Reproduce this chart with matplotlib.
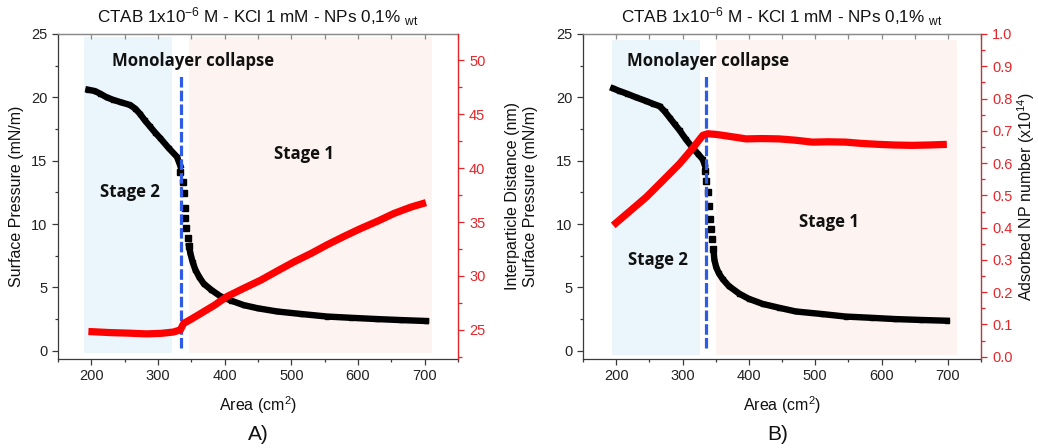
import matplotlib
matplotlib.use("Agg")
import matplotlib.pyplot as plt
from matplotlib.ticker import MultipleLocator

plt.rcParams['font.family'] = ['Liberation Sans', 'DejaVu Sans']
plt.rcParams['mathtext.fontset'] = 'custom'
plt.rcParams['mathtext.rm'] = 'Liberation Sans'
plt.rcParams['mathtext.it'] = 'Liberation Sans:italic'

# ---------------- data: panel A ----------------
a_area_s2 = [195.6, 205, 213, 223, 233, 245, 258, 266, 273, 280, 288, 296, 303, 316, 328.5, 333.5]
a_pres_s2 = [20.6, 20.5, 20.3, 20.0, 19.8, 19.6, 19.4, 19.1, 18.7, 18.2, 17.7, 17.2, 16.8, 16.0, 15.3, 14.6]
a_area_col = [333.5, 337.5, 338.4, 340.0, 341.0, 342.5, 345.5, 346.5]
a_pres_col = [14.13, 13.34, 12.42, 11.3, 10.45, 9.66, 8.87, 8.26]
a_area_s1 = [346.5, 348.5, 352, 356, 362, 368.5, 380, 393.6, 410, 428.6, 450, 478.8, 515, 554, 590, 629, 665, 702]
a_pres_s1 = [8.26, 7.7, 7.0, 6.4, 5.8, 5.3, 4.8, 4.3, 3.95, 3.6, 3.35, 3.1, 2.9, 2.7, 2.6, 2.5, 2.42, 2.35]
a_area_d = [195.6, 228, 255, 283, 305, 323, 333.5, 338.5, 350, 363.5, 385, 403.7, 430, 453.8, 480, 503.8, 530, 554, 580, 604, 630, 654, 680, 702]
a_dist = [24.85, 24.75, 24.7, 24.63, 24.68, 24.8, 25.0, 25.6, 26.0, 26.5, 27.3, 28.1, 28.9, 29.6, 30.5, 31.3, 32.1, 32.9, 33.7, 34.4, 35.1, 35.8, 36.4, 36.8]

# ---------------- data: panel B ----------------
b_area_s2 = [195.5, 205, 215.6, 230, 245.6, 255, 265.6, 273, 280.6, 288, 295.6, 305, 315.6, 324, 330.6, 333.2]
b_pres_s2 = [20.7, 20.5, 20.3, 20.0, 19.7, 19.5, 19.3, 18.9, 18.4, 17.9, 17.4, 16.7, 16.0, 15.5, 15.1, 14.7]
b_area_col = [333.2, 335.7, 338.2, 339.7, 341.7, 343.7, 344.7, 346.7]
b_pres_col = [14.2, 13.4, 12.5, 11.4, 10.4, 9.6, 8.8, 8.0]
b_area_s1 = [346.7, 348, 350.7, 355, 360.7, 370, 385.7, 400, 420.7, 445, 470.9, 510, 546, 585, 621, 660, 698.5]
b_pres_s1 = [8.0, 7.2, 6.6, 6.1, 5.65, 5.1, 4.5, 4.1, 3.7, 3.4, 3.1, 2.9, 2.7, 2.6, 2.5, 2.43, 2.37]
b_area_n = [195.5, 220, 245.6, 270, 295.6, 315, 330.6, 338, 350, 360.7, 380, 395.8, 420, 445.8, 470, 495.8, 520, 546, 570, 596, 620, 646, 670, 698.5]
b_num = [0.407, 0.45, 0.495, 0.545, 0.598, 0.645, 0.686, 0.691, 0.689, 0.686, 0.68, 0.675, 0.676, 0.675, 0.671, 0.665, 0.666, 0.665, 0.661, 0.658, 0.656, 0.655, 0.656, 0.658]

# stage regions (area ranges and pressure ranges)
a_stage2 = (189, 321.4)
a_stage1 = (346.5, 711)
b_stage2 = (193, 325.7)
b_stage1 = (350.7, 714.5)
shade_y_a = (-0.18, 24.8)
shade_y_b = (-0.35, 24.5)
a_collapse_x = 334.5
b_collapse_x = 336.0
collapse_y = (0.2, 21.8)

xticks = [200, 300, 400, 500, 600, 700]

title_txt = "CTAB 1x10$^{\\mathrm{-6}}$ M - KCl 1 mM - NPs 0,1% $_{\\mathrm{wt}}$"
RED = '#E4262B'
DARK = '#3A3A3A'

fig = plt.figure(figsize=(10.38, 4.48), dpi=100)
axA = fig.add_axes([58/1038, 1-359/448, 400/1038, 325/448])
axB = fig.add_axes([583/1038, 1-359/448, 398/1038, 325/448])


def setup(ax, stage2, stage1, shade_y, cx, area_s2, pres_s2, area_col, pres_col, area_s1, pres_s1,
          ylab_x, txt_pos):
    ax.fill_between(stage2, shade_y[0], shade_y[1], color='#EAF6FC', lw=0, zorder=0)
    ax.fill_between(stage1, shade_y[0], shade_y[1], color='#FDF3F0', lw=0, zorder=0)
    ax.plot(area_s2, pres_s2, color='black', lw=4.6, marker='s', ms=3.5, zorder=3)
    ax.plot(area_col, pres_col, color='black', lw=0, marker='s', ms=4.3, zorder=3)
    ax.plot(area_s1, pres_s1, color='black', lw=4.6, marker='s', ms=3.5, zorder=3)
    ax.plot([cx, cx], collapse_y, color='#2E5CE6', lw=2.3, dashes=(3.3, 1.0), zorder=4)
    ax.set_xlim(150, 750)
    ax.set_ylim(-0.65, 25)
    ax.set_xticks(xticks)
    ax.xaxis.set_minor_locator(MultipleLocator(50))
    ax.yaxis.set_major_locator(MultipleLocator(5))
    ax.yaxis.set_minor_locator(MultipleLocator(2.5))
    ax.tick_params(which='major', direction='out', length=4, width=0.9, color=DARK,
                   labelsize=10.5, labelcolor='#222222', right=False)
    ax.tick_params(which='minor', direction='out', length=2.5, width=0.9, color=DARK, right=False)
    for s in ['left', 'bottom']:
        ax.spines[s].set_color(DARK)
        ax.spines[s].set_linewidth(0.9)
    ax.spines['top'].set_color('#8A8A8A')
    ax.spines['top'].set_linewidth(0.9)
    top = ax.secondary_xaxis('top')
    top.set_xticks(xticks)
    top.xaxis.set_minor_locator(MultipleLocator(50))
    top.tick_params(which='both', direction='in', length=3.5, width=0.9, color='#8A8A8A',
                    labeltop=False)
    top.spines['top'].set_color('#8A8A8A')
    top.spines['top'].set_linewidth(0.9)
    ax.set_xlabel("Area (cm$^{\\mathrm{2}}$)", fontsize=11.5, color='#111111')
    ax.xaxis.set_label_coords(0.5, -0.108)
    ax.set_ylabel("Surface Pressure (mN/m)", fontsize=11.5, color='#111111')
    ax.yaxis.set_label_coords(ylab_x, 0.5)
    ax.text(0.5, 1 + 17/325, title_txt, transform=ax.transAxes, ha='center', va='center',
            fontsize=12.3, color='#111111')
    bold = dict(family=['Open Sans', 'DejaVu Sans'], fontweight='bold', fontsize=12.1,
                color='#111111', ha='center', va='center', zorder=5)
    for label, (x, y) in txt_pos.items():
        ax.text(x, y, label, **bold)


setup(axA, a_stage2, a_stage1, shade_y_a, a_collapse_x, a_area_s2, a_pres_s2, a_area_col, a_pres_col,
      a_area_s1, a_pres_s1, -0.084,
      {"Monolayer collapse": (353, 22.9), "Stage 1": (519, 15.5), "Stage 2": (258, 12.5)})
setup(axB, b_stage2, b_stage1, shade_y_b, b_collapse_x, b_area_s2, b_pres_s2, b_area_col, b_pres_col,
      b_area_s1, b_pres_s1, -0.113,
      {"Monolayer collapse": (338, 22.9), "Stage 1": (521, 10.2), "Stage 2": (263, 7.2)})


def twin(ax, x, y, ylim, major, minor, label, labx, fmt=None):
    t = ax.twinx()
    t.plot(x, y, color='#FF0000', lw=5.2, solid_capstyle='butt', zorder=3)
    t.set_ylim(*ylim)
    t.yaxis.set_major_locator(MultipleLocator(major))
    t.yaxis.set_minor_locator(MultipleLocator(minor))
    t.tick_params(which='major', direction='out', length=4.5, width=0.9, color=RED,
                  labelsize=10.5, labelcolor=RED)
    t.tick_params(which='minor', direction='out', length=2.8, width=0.9, color=RED)
    t.spines['right'].set_color(RED)
    t.spines['right'].set_linewidth(0.9)
    for s in ['left', 'top', 'bottom']:
        t.spines[s].set_visible(False)
    if fmt:
        t.yaxis.set_major_formatter(fmt)
    t.set_ylabel(label, fontsize=11.5, color='#111111')
    t.yaxis.set_label_coords(labx, 0.5)
    return t


twin(axA, a_area_d, a_dist, (22.3, 52.44), 5, 2.5, "Interparticle Distance (nm)", 1.1175)
twin(axB, b_area_n, b_num, (-0.007, 1.0), 0.1, 0.05, "Adsorbed NP number (x10$^{\\mathrm{14}}$)",
     1.086, fmt=matplotlib.ticker.FormatStrFormatter('%.1f'))

fig.text(258/1038, 1 - 434/448, "A)", ha='center', va='center', fontsize=15, color='#111111')
fig.text(778/1038, 1 - 434/448, "B)", ha='center', va='center', fontsize=15, color='#111111')

fig.savefig("out.png", dpi=100)
